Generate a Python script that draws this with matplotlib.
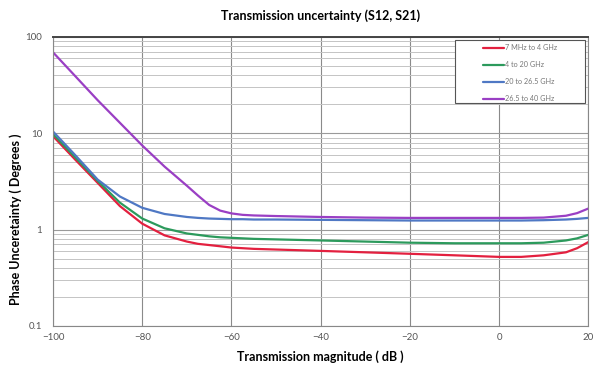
import numpy as np
import matplotlib
matplotlib.use('Agg')
import matplotlib.pyplot as plt
from matplotlib.patches import Rectangle
from matplotlib.ticker import FixedLocator, NullFormatter

plt.rcParams['font.family'] = ['Lato', 'DejaVu Sans']

# values
mag_db = [-100, -95, -90, -85, -80, -75, -70, -67.5, -65, -62.5, -60, -57.5, -55, -50, -40, -30, -20, -10, 0, 5, 10, 15, 17.5, 20]

red = [9.3, 5.3, 3.05, 1.75, 1.15, 0.87, 0.75, 0.71, 0.69, 0.67, 0.65, 0.64, 0.63, 0.62, 0.6, 0.58, 0.56, 0.54, 0.52, 0.52, 0.54, 0.58, 0.64, 0.74]
green = [9.8, 5.6, 3.2, 1.9, 1.3, 1.03, 0.91, 0.88, 0.85, 0.83, 0.82, 0.81, 0.8, 0.79, 0.77, 0.75, 0.73, 0.72, 0.72, 0.72, 0.73, 0.77, 0.81, 0.88]
blue = [10.4, 5.9, 3.3, 2.2, 1.68, 1.45, 1.35, 1.32, 1.3, 1.29, 1.28, 1.28, 1.27, 1.27, 1.26, 1.25, 1.24, 1.24, 1.24, 1.24, 1.25, 1.27, 1.29, 1.32]
purple = [69, 39, 22, 12.8, 7.45, 4.5, 2.85, 2.25, 1.8, 1.57, 1.47, 1.42, 1.4, 1.38, 1.35, 1.33, 1.32, 1.32, 1.32, 1.32, 1.33, 1.39, 1.48, 1.65]

labels = ['7 MHz to 4 GHz', '4 to 20 GHz', '20 to 26.5 GHz', '26.5 to 40 GHz']
colors = ['#e3203f', '#2c9a5c', '#4f78c4', '#9a3fc4']

fig = plt.figure(figsize=(5.96, 3.72), dpi=100)
ax = fig.add_axes([0.089, 0.124, 0.898, 0.777])

for vals, lab, c in zip([red, green, blue, purple], labels, colors):
    ax.plot(mag_db, vals, color=c, lw=1.6, label=lab, solid_capstyle='round', solid_joinstyle='round')

ax.set_yscale('log')
ax.set_ylim(0.1, 100)
ax.set_xlim(-100, 20)
ax.set_xticks(range(-100, 21, 20))
ax.set_yticks([0.1, 1, 10, 100])
ax.set_yticklabels(['0.1', '1', '10', '100'])
minor = [m * d for d in (0.1, 1, 10) for m in range(2, 10)]
ax.yaxis.set_minor_locator(FixedLocator(minor))
ax.yaxis.set_minor_formatter(NullFormatter())

ax.grid(True, which='major', axis='x', color='#8a8a8a', lw=0.8)
ax.grid(True, which='major', axis='y', color='#9a9a9a', lw=0.8)
ax.grid(True, which='minor', axis='y', color='#c4c4c4', lw=0.7)
ax.set_axisbelow(True)

ax.tick_params(which='both', length=0, labelsize=7, labelcolor='#555555')
ax.tick_params(axis='x', pad=5)
ax.tick_params(axis='y', pad=8)
for side in ['left', 'bottom', 'right']:
    ax.spines[side].set_color('#888888')
    ax.spines[side].set_linewidth(0.8)
ax.spines['top'].set_color('#444444')
ax.spines['top'].set_linewidth(1.4)

ax.set_title('Transmission uncertainty (S12, S21)', fontsize=9, fontweight='bold', pad=12)
ax.set_xlabel('Transmission magnitude ( dB )', fontsize=9, fontweight='bold', labelpad=6)
ax.set_ylabel('Phase Unceretainty ( Degrees )', fontsize=9, fontweight='bold')
ax.yaxis.set_label_coords(-0.058, 0.37)

# legend: plain box drawn as a patch, entries placed inside it
box = Rectangle((0.751, 0.772), 0.243, 0.218, transform=ax.transAxes,
                facecolor='white', edgecolor='#555555', lw=0.8, zorder=4)
ax.add_patch(box)
leg = ax.legend(loc='upper left', fontsize=5.2, frameon=False,
                handlelength=2.9, handletextpad=0.15, borderpad=0, borderaxespad=0,
                labelspacing=1.4, bbox_to_anchor=(0.803, 0.975))
leg.set_zorder(5)
for t in leg.get_texts():
    t.set_color('#777777')

plt.savefig('out.png', dpi=100)
